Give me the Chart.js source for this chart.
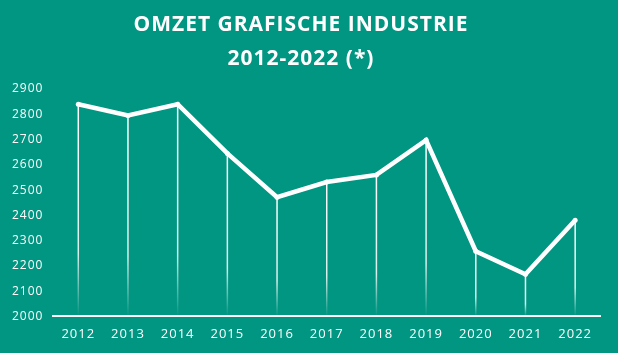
<!DOCTYPE html>
<html><head><meta charset="utf-8">
<script src="https://cdn.jsdelivr.net/npm/chart.js@4"></script>
<style>html,body{margin:0;padding:0;background:#009682;}#wrap{width:618px;height:353px;}</style>
</head><body><div id="wrap"><canvas id="c"></canvas></div>
<script>
const titleLines = ["OMZET GRAFISCHE INDUSTRIE", "2012-2022 (*)"];
const years = ["2012","2013","2014","2015","2016","2017","2018","2019","2020","2021","2022"];
const omzet = [2840, 2795, 2840, 2645, 2472, 2532, 2560, 2698, 2258, 2167, 2381];
const yMin = 2000, yMax = 2900, yStep = 100;

const spacing = {
  id: 'spacing',
  beforeDraw(chart){ chart.ctx.letterSpacing = '1px'; },
  beforeLayout(chart){ chart.ctx.letterSpacing = '1px'; }
};
const dropLines = {
  id: 'dropLines',
  beforeDatasetsDraw(chart){
    const ctx = chart.ctx, meta = chart.getDatasetMeta(0), bottom = chart.chartArea.bottom;
    ctx.save();
    meta.data.forEach(p => {
      const g = ctx.createLinearGradient(0, p.y, 0, bottom);
      g.addColorStop(0, 'rgba(255,255,255,1)');
      g.addColorStop(0.7, 'rgba(255,255,255,0.85)');
      g.addColorStop(1, 'rgba(255,255,255,0)');
      ctx.strokeStyle = g; ctx.lineWidth = 1.5;
      ctx.beginPath(); ctx.moveTo(p.x, p.y); ctx.lineTo(p.x, bottom); ctx.stroke();
    });
    ctx.restore();
  }
};

new Chart(document.getElementById('c'), {
  type: 'line',
  data: { labels: years, datasets: [{ data: omzet, borderColor: '#ffffff', borderWidth: 4.5,
    pointRadius: 2.5, pointBackgroundColor: '#ffffff', pointBorderWidth: 0, tension: 0 }] },
  options: {
    responsive: true, maintainAspectRatio: false, animation: false,
    layout: { padding: { left: 2, right: 18, top: 8, bottom: 1 } },
    plugins: {
      legend: { display: false }, tooltip: { enabled: false },
      title: { display: true, text: titleLines, color: '#ffffff',
        font: { family: 'Open Sans', size: 21, weight: 'bold', lineHeight: 1.62 }, padding: { top: 0, bottom: 13 } }
    },
    scales: {
      x: { offset: true, grid: { display: false, drawTicks: false },
        border: { display: true, color: '#ffffff', width: 2 },
        ticks: { color: '#ffffff', font: { family: 'Open Sans', size: 13 }, padding: 10 } },
      y: { min: yMin, max: yMax, grid: { display: false, drawTicks: false },
        border: { display: false },
        ticks: { stepSize: yStep, color: '#ffffff', font: { family: 'Open Sans', size: 12 }, padding: 10,
          callback: v => String(v) } }
    }
  },
  plugins: [spacing, dropLines]
});
</script></body></html>
